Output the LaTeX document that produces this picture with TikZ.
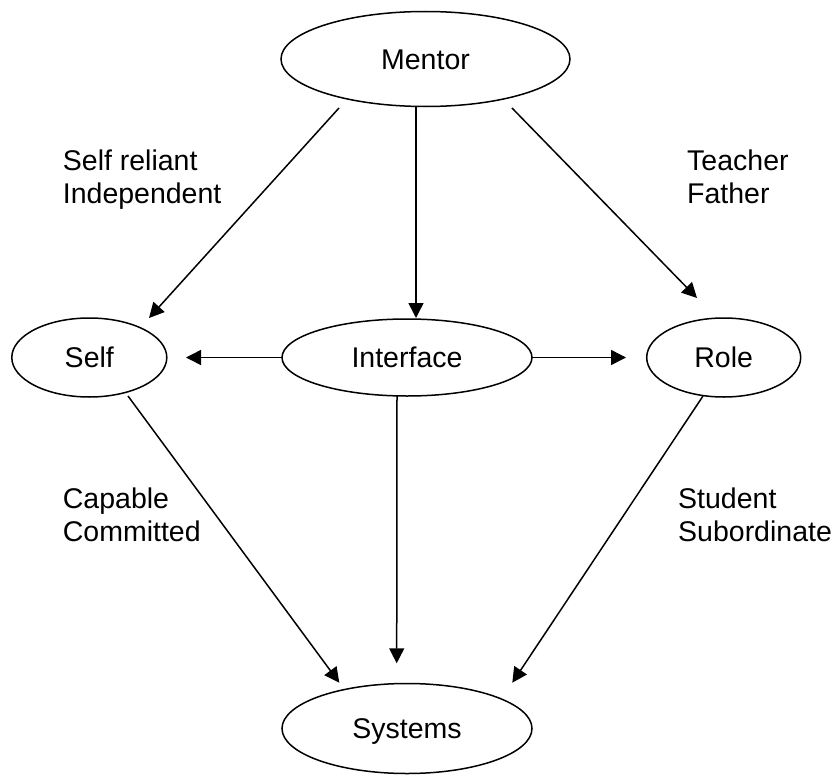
\documentclass[tikz,border=0pt]{standalone}
\usepackage{fontspec}
\setmainfont{Liberation Sans}
\usetikzlibrary{arrows.meta,shapes.geometric,calc}
\begin{document}
\begin{tikzpicture}[x=1pt,y=-1pt,
  every node/.style={font=\fontsize{28.5}{33}\selectfont},
  ell/.style={draw,ellipse,line width=1.5pt,inner sep=0pt,outer sep=0pt,text height=20.4pt},
  conn/.style={line width=1.5pt,-{Triangle[length=15pt,width=15pt]}},
  lbl/.style={anchor=base west,inner sep=0pt}]
\useasboundingbox (0,0) rectangle (838,776);
\node[ell,minimum width=289pt,minimum height=95pt,text depth=0pt] (mentor) at (425.5,59) {Mentor};
\node[ell,minimum width=155pt,minimum height=79pt,text depth=-8.6pt] (self) at (89.3,357.5) {Self};
\node[ell,minimum width=250pt,minimum height=77pt,text depth=-8.6pt] (iface) at (407,357.5) {Interface};
\node[ell,minimum width=154pt,minimum height=79pt,text depth=-8.6pt] (role) at (723.7,357.5) {Role};
\node[ell,minimum width=250pt,minimum height=90pt,text depth=-6.6pt] (sys) at (407,728.5) {Systems};

\draw[conn] ($(mentor.center)+(-86.5,49)$) -- ($(self.center)+(59.7,-39.5)$);
\draw[conn] ($(mentor.center)+(-9.5,48)$) -- ($(iface.center)+(9,-39.5)$);
\draw[conn] ($(mentor.center)+(86.5,49)$) -- ($(role.center)+(-26.7,-59.5)$);
\draw[conn] ($(iface.center)+(-125,0)$) -- ($(self.center)+(96.7,0)$);
\draw[conn] ($(iface.center)+(125,0)$) -- ($(role.center)+(-97.7,0)$);
\draw[conn] ($(iface.center)+(-10,38.5)$) -- ($(sys.center)+(-10.3,-65.2)$);
\draw[conn] ($(self.center)+(38.7,38.5)$) -- ($(sys.center)+(-67.7,-45.8)$);
\draw[conn] ($(role.center)+(-20.7,38.5)$) -- ($(sys.center)+(105.3,-45.8)$);

\node[lbl] (l1a) at (62.7,170) {Self reliant};
\node[lbl] (l1b) at (62.7,203) {Independent};
\node[lbl] (l2a) at (687,170) {Teacher};
\node[lbl] (l2b) at (687,203) {Father};
\node[lbl] (l3a) at (62.7,508) {Capable};
\node[lbl] (l3b) at (62.7,541) {Committed};
\node[lbl] (l4a) at (678,508) {Student};
\node[lbl] (l4b) at (678,541) {Subordinate};
\end{tikzpicture}
\end{document}
